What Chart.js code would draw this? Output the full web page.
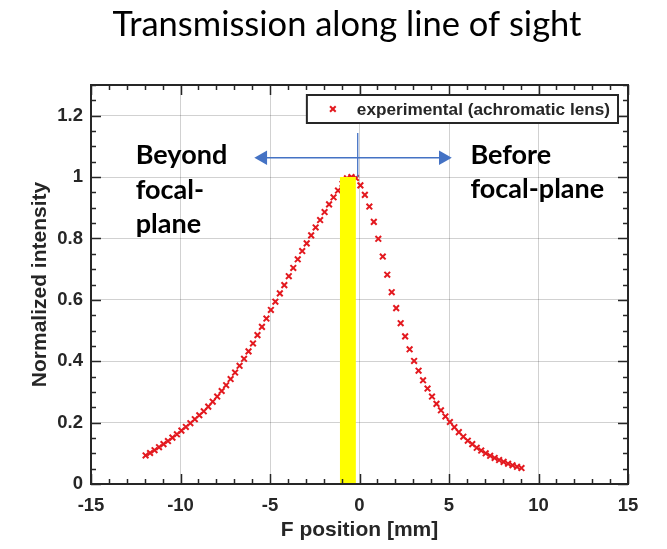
<!DOCTYPE html>
<html><head><meta charset="utf-8">
<script src="https://cdn.jsdelivr.net/npm/chart.js@4.4.1/dist/chart.umd.min.js"></script>
<style>html,body{margin:0;padding:0;background:#fff;}#wrap{width:667px;height:549px;}</style>
</head><body><div id="wrap"><canvas id="c" width="667" height="549"></canvas></div>
<script>
// ---- data ----
const positionsMm = [
  -11.95, -11.70, -11.45, -11.20, -10.95, -10.70, -10.45, -10.20, -9.95, -9.70,
  -9.45, -9.20, -8.95, -8.70, -8.45, -8.20, -7.95, -7.70, -7.45, -7.20,
  -6.95, -6.70, -6.45, -6.20, -5.95, -5.70, -5.45, -5.20, -4.95, -4.70,
  -4.45, -4.20, -3.95, -3.70, -3.45, -3.20, -2.95, -2.70, -2.45, -2.20,
  -1.95, -1.70, -1.45, -1.20, -0.95, -0.70, -0.45, -0.20,
  0.05, 0.30, 0.55, 0.80, 1.05, 1.30, 1.55, 1.80, 2.05, 2.30,
  2.55, 2.80, 3.05, 3.30, 3.55, 3.80, 4.05, 4.30, 4.55, 4.80,
  5.05, 5.30, 5.55, 5.80, 6.05, 6.30, 6.55, 6.80, 7.05, 7.30,
  7.55, 7.80, 8.05, 8.30, 8.55, 8.80, 9.05
];
const intensity = [
  0.093, 0.101, 0.110, 0.120, 0.130, 0.140, 0.151, 0.162, 0.174, 0.186,
  0.198, 0.211, 0.224, 0.237, 0.252, 0.268, 0.285, 0.303, 0.322, 0.342,
  0.363, 0.385, 0.408, 0.432, 0.458, 0.485, 0.512, 0.539, 0.567, 0.594,
  0.621, 0.648, 0.677, 0.704, 0.732, 0.759, 0.784, 0.810, 0.836, 0.860,
  0.886, 0.911, 0.934, 0.956, 0.978, 0.996, 1.000, 0.997,
  0.973, 0.942, 0.904, 0.854, 0.799, 0.741, 0.682, 0.625, 0.573, 0.524,
  0.481, 0.439, 0.401, 0.369, 0.338, 0.311, 0.285, 0.261, 0.240, 0.220,
  0.202, 0.185, 0.169, 0.154, 0.141, 0.130, 0.118, 0.109, 0.100, 0.092,
  0.085, 0.078, 0.072, 0.066, 0.061, 0.056, 0.052
];
const seriesLabel = 'experimental (achromatic lens)';
const titleText = 'Transmission along line of sight';
const xAxisTitle = 'F position [mm]';
const yAxisTitle = 'Normalized intensity';
const xRange = [-15, 15];
const yRange = [0, 1.3];
// focal band (yellow)
const bandX = [-1.1, -0.2];
const bandY = [1.0, 1.0];
// arrows (blue)
const arrowX = [-5.4, 4.68];
const arrowY = [1.063, 1.063];
const markerX = [-0.1, -0.1];
const markerY = [1.0, 1.144];
// annotation texts
const beyondLines = ['Beyond', 'focal-', 'plane'];
const beforeLines = ['Before', 'focal-plane'];
const beyondAnchor = [-12.5, 1.041];
const beforeAnchor = [6.2, 1.043];

const zip = (xs, ys) => xs.map((v, i) => ({x: v, y: ys[i]}));

const RED = '#e3191f';
const BLUE = '#4472c4';
const DARK = '#262626';
const SANS = '"Liberation Sans", Arial, sans-serif';
const HUMAN = 'Lato, "Open Sans", sans-serif';

const decor = {
  id: 'decor',
  afterDatasetsDraw(chart) {
    const {ctx, chartArea: a, scales: {x, y}} = chart;
    ctx.save();
    ctx.strokeStyle = DARK;
    ctx.lineWidth = 1.5;
    const seg = (x1, y1, x2, y2) => { ctx.beginPath(); ctx.moveTo(x1, y1); ctx.lineTo(x2, y2); ctx.stroke(); };
    for (let v = xRange[0]; v <= xRange[1]; v++) {
      const px = Math.round(x.getPixelForValue(v)) + 0.5;
      const len = v % 5 === 0 ? 10 : 5;
      seg(px, a.bottom, px, a.bottom - len);
      seg(px, a.top, px, a.top + len);
    }
    for (let k = 0; k <= 26; k++) {
      const py = Math.round(y.getPixelForValue(k * 0.05)) + 0.5;
      const len = k % 4 === 0 ? 10 : 5;
      seg(a.left, py, a.left + len, py);
      seg(a.right, py, a.right - len, py);
    }
    ctx.lineWidth = 2;
    ctx.strokeRect(a.left, a.top, a.right - a.left, a.bottom - a.top);

    // legend box
    ctx.font = 'bold 17.2px ' + SANS;
    const tw = ctx.measureText(seriesLabel).width;
    const bw = tw + 58, bh = 28;
    const bx = a.right - 10 - bw, by = a.top + 10;
    ctx.fillStyle = '#fff';
    ctx.fillRect(bx, by, bw, bh);
    ctx.lineWidth = 2;
    ctx.strokeStyle = DARK;
    ctx.strokeRect(bx, by, bw, bh);
    const mx = bx + 26, my = by + bh / 2;
    ctx.strokeStyle = RED; ctx.lineWidth = 2;
    const r = 4 * Math.SQRT1_2;
    seg(mx - r, my - r, mx + r, my + r);
    seg(mx - r, my + r, mx + r, my - r);
    ctx.fillStyle = DARK;
    ctx.textBaseline = 'middle';
    ctx.textAlign = 'left';
    ctx.fillText(seriesLabel, bx + 50, my + 1);

    // annotation texts
    ctx.fillStyle = '#000';
    ctx.textBaseline = 'alphabetic';
    ctx.font = 'bold 27px ' + HUMAN;
    let tx = x.getPixelForValue(beyondAnchor[0]), ty = y.getPixelForValue(beyondAnchor[1]);
    beyondLines.forEach((s, i) => ctx.fillText(s, tx, ty + i * 34.5));
    tx = x.getPixelForValue(beforeAnchor[0]); ty = y.getPixelForValue(beforeAnchor[1]);
    beforeLines.forEach((s, i) => ctx.fillText(s, tx, ty + i * 34));
    ctx.restore();
  },
  afterDraw(chart) {
    const {ctx} = chart;
    ctx.save();
    ctx.fillStyle = '#000';
    ctx.font = '34.5px ' + HUMAN;
    ctx.textAlign = 'center';
    ctx.textBaseline = 'alphabetic';
    ctx.fillText(titleText, 347, 36);
    ctx.restore();
  }
};

new Chart(document.getElementById('c'), {
  type: 'scatter',
  data: {
    datasets: [
      {
        label: 'focal band', type: 'line', data: zip(bandX, bandY),
        fill: 'origin', backgroundColor: '#ffff00', borderWidth: 0, pointRadius: 0, order: 0
      },
      {
        label: 'direction', type: 'line', data: zip(arrowX, arrowY),
        borderColor: BLUE, borderWidth: 1.3, fill: false,
        pointStyle: 'triangle', pointRadius: 8.5, pointRotation: [-90, 90],
        pointBackgroundColor: BLUE, pointBorderColor: BLUE, pointBorderWidth: 0, order: 0
      },
      {
        label: 'marker', type: 'line', data: zip(markerX, markerY),
        borderColor: BLUE, borderWidth: 1.3, fill: false, pointRadius: 0, order: 0
      },
      {
        label: seriesLabel, data: zip(positionsMm, intensity),
        pointStyle: 'crossRot', pointRadius: 4, pointBorderWidth: 2,
        borderColor: RED, backgroundColor: RED, order: 1
      }
    ]
  },
  options: {
    responsive: false, animation: false, devicePixelRatio: 1,
    layout: {padding: {top: 85, right: 39, left: 0, bottom: 0}},
    plugins: {legend: {display: false}, tooltip: {enabled: false}, title: {display: false}},
    scales: {
      x: {
        type: 'linear', min: xRange[0], max: xRange[1],
        afterFit: s => { s.height = 65; },
        ticks: {stepSize: 5, padding: 11, color: DARK, font: {family: SANS, size: 18.5, weight: 'bold'},
          callback: v => String(v)},
        grid: {color: 'rgba(0,0,0,0.18)', lineWidth: 1, drawTicks: false},
        border: {display: false},
        title: {display: true, text: xAxisTitle, color: DARK, padding: {top: 0, bottom: 6},
          font: {family: SANS, size: 21, weight: 'bold'}}
      },
      y: {
        min: yRange[0], max: yRange[1],
        afterFit: s => { s.width = 91; },
        afterBuildTicks: s => { s.ticks = s.ticks.filter(t => t.value <= 1.21); },
        ticks: {stepSize: 0.2, padding: 8, color: DARK, font: {family: SANS, size: 18.5, weight: 'bold'},
          callback: v => String(Math.round(v * 10) / 10)},
        grid: {color: 'rgba(0,0,0,0.18)', lineWidth: 1, drawTicks: false},
        border: {display: false},
        title: {display: true, text: yAxisTitle, color: DARK, padding: {top: 28, bottom: 0},
          font: {family: SANS, size: 21, weight: 'bold'}}
      }
    }
  },
  plugins: [decor]
});
</script></body></html>
